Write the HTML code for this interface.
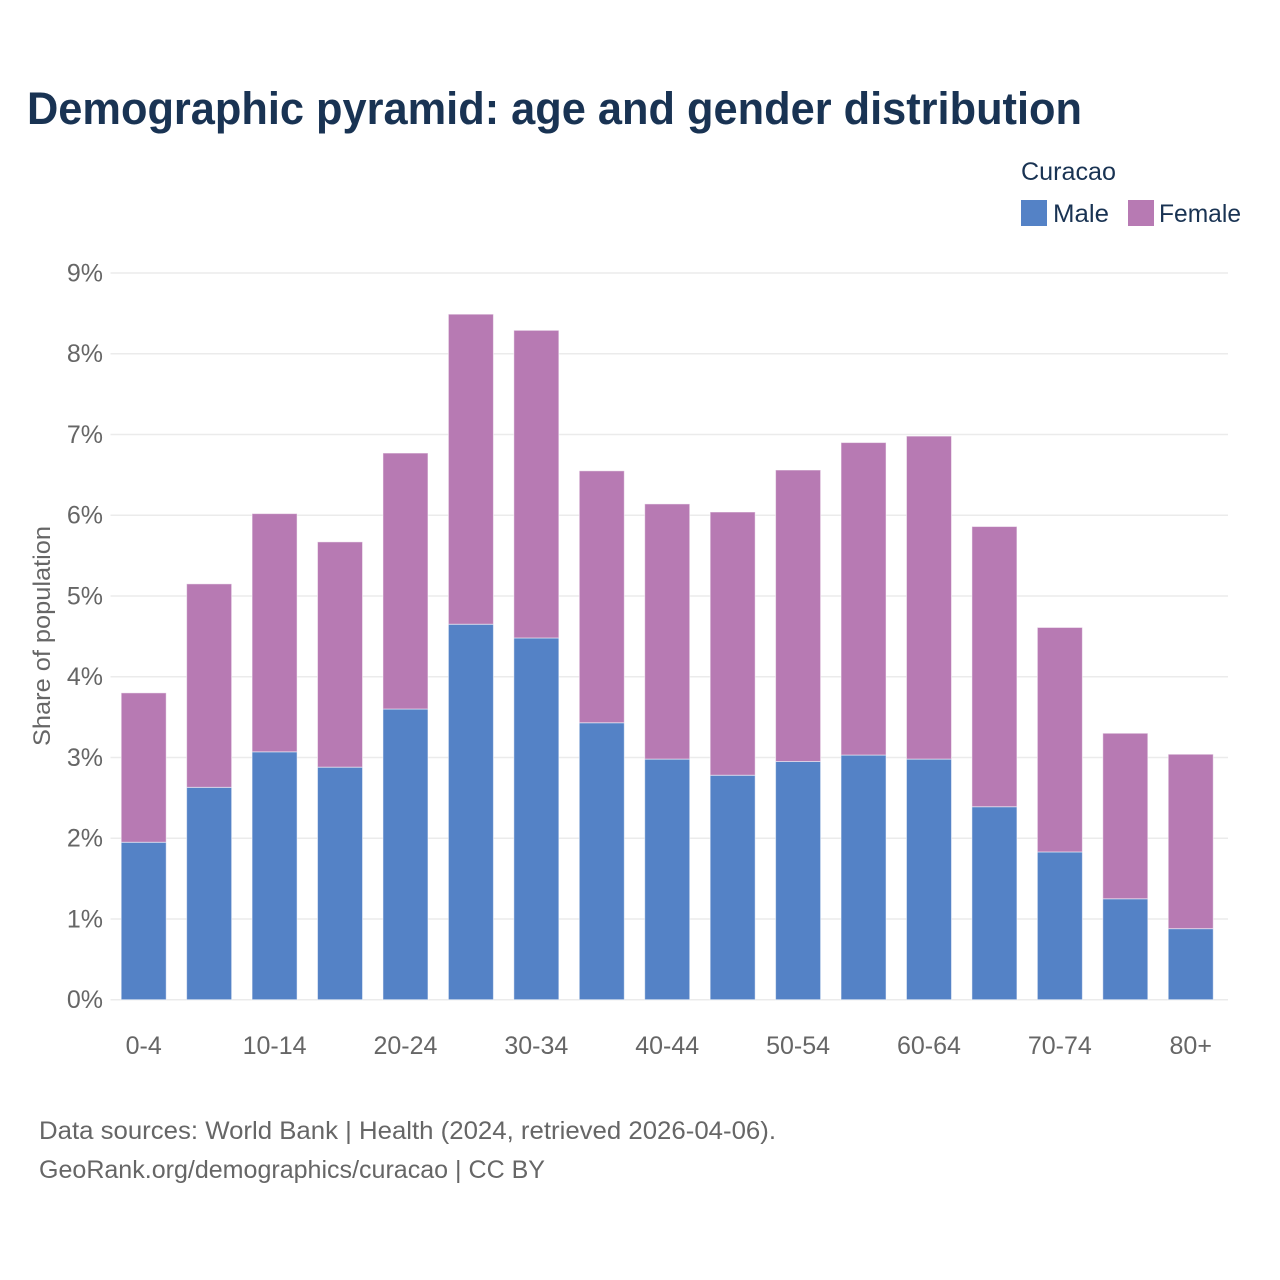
<!DOCTYPE html>
<html lang="en">
<head>
<meta charset="utf-8">
<title>Demographic pyramid: age and gender distribution</title>
<style>
html,body{margin:0;padding:0;background:#fff;width:1280px;height:1280px;overflow:hidden}
svg{display:block}
text{font-family:"Liberation Sans",sans-serif}
</style>
</head>
<body>
<svg id="chart" width="1280" height="1280" viewBox="0 0 1280 1280" xmlns="http://www.w3.org/2000/svg">
  <rect width="1280" height="1280" fill="#ffffff"/>
  <text x="27" y="124" font-size="45" font-weight="700" fill="#193353" textLength="1055" lengthAdjust="spacingAndGlyphs">Demographic pyramid: age and gender distribution</text>
  <g>
    <text x="1021" y="180" font-size="25" fill="#193353" textLength="95" lengthAdjust="spacingAndGlyphs">Curacao</text>
    <rect x="1021" y="200" width="26" height="26" fill="#5482c6"/>
    <text x="1053" y="222" font-size="25" fill="#193353" textLength="56" lengthAdjust="spacingAndGlyphs">Male</text>
    <rect x="1128" y="200" width="26" height="26" fill="#b77ab3"/>
    <text x="1159" y="222" font-size="25" fill="#193353" textLength="82" lengthAdjust="spacingAndGlyphs">Female</text>
  </g>
  <g id="grid"></g>
  <g id="y-axis"></g>
  <g id="bars"></g>
  <g id="x-axis"></g>
  <text transform="translate(50 636) rotate(-90)" text-anchor="middle" font-size="24" fill="#666666" textLength="220" lengthAdjust="spacingAndGlyphs">Share of population</text>
  <text x="39" y="1139" font-size="25" fill="#666666" textLength="737" lengthAdjust="spacingAndGlyphs">Data sources: World Bank | Health (2024, retrieved 2026-04-06).</text>
  <text x="39" y="1178" font-size="25" fill="#666666" textLength="506" lengthAdjust="spacingAndGlyphs">GeoRank.org/demographics/curacao | CC BY</text>
</svg>
<script>
const categories = ['0-4','5-9','10-14','15-19','20-24','25-29','30-34','35-39','40-44','45-49','50-54','55-59','60-64','65-69','70-74','75-79','80+'];
const maleValues = [1.95,2.63,3.07,2.88,3.60,4.65,4.48,3.43,2.98,2.78,2.95,3.03,2.98,2.39,1.83,1.25,0.88];
const femaleValues = [1.85,2.52,2.95,2.79,3.17,3.84,3.81,3.12,3.16,3.26,3.61,3.87,4.00,3.47,2.78,2.05,2.16];
const yTicks = [0,1,2,3,4,5,6,7,8,9];
const xLabels = ['0-4','10-14','20-24','30-34','40-44','50-54','60-64','70-74','80+'];

const SVG_NS = 'http://www.w3.org/2000/svg';
const plot = {left: 110.5, right: 1228, top: 273, bottom: 999.7, yMax: 9, barWidth: 45};
const step = 65.44;
const firstCenter = 143.7;

function yScale(v) {
  return plot.bottom - (v / plot.yMax) * (plot.bottom - plot.top);
}
function xCenter(i) {
  return firstCenter + i * step;
}
function make(tag, attrs, parent) {
  const el = document.createElementNS(SVG_NS, tag);
  for (const k in attrs) el.setAttribute(k, attrs[k]);
  parent.appendChild(el);
  return el;
}

const gridG = document.getElementById('grid');
const yG = document.getElementById('y-axis');
yTicks.forEach(function (t) {
  const line = make('line', {x1: plot.left, x2: plot.right, y1: yScale(t), y2: yScale(t), stroke: '#ebebeb', 'stroke-width': 1.5}, gridG);
  
  
  const label = make('text', {x: 103, y: yScale(t) + 8.5, 'text-anchor': 'end', 'font-size': 25, fill: '#666666'}, yG);
  label.textContent = t + '%';
  
  
});

const barsG = document.getElementById('bars');
categories.forEach(function (c, i) {
  const x = xCenter(i) - plot.barWidth / 2;
  const male = maleValues[i];
  const total = male + femaleValues[i];
  const mBar = make('rect', {x: x, y: yScale(male), width: plot.barWidth, height: plot.bottom - yScale(male), fill: '#5482c6', stroke: '#ffffff', 'stroke-opacity': 0.5, 'stroke-width': 1}, barsG);
  
  
  const fBar = make('rect', {x: x, y: yScale(total), width: plot.barWidth, height: yScale(male) - yScale(total), fill: '#b77ab3', stroke: '#ffffff', 'stroke-opacity': 0.5, 'stroke-width': 1}, barsG);
  
  
});

const xG = document.getElementById('x-axis');
xLabels.forEach(function (c) {
  const i = categories.indexOf(c);
  const label = make('text', {x: xCenter(i), y: 1054, 'text-anchor': 'middle', 'font-size': 25, fill: '#666666'}, xG);
  label.textContent = c;
  
  
});
</script>
</body>
</html>
